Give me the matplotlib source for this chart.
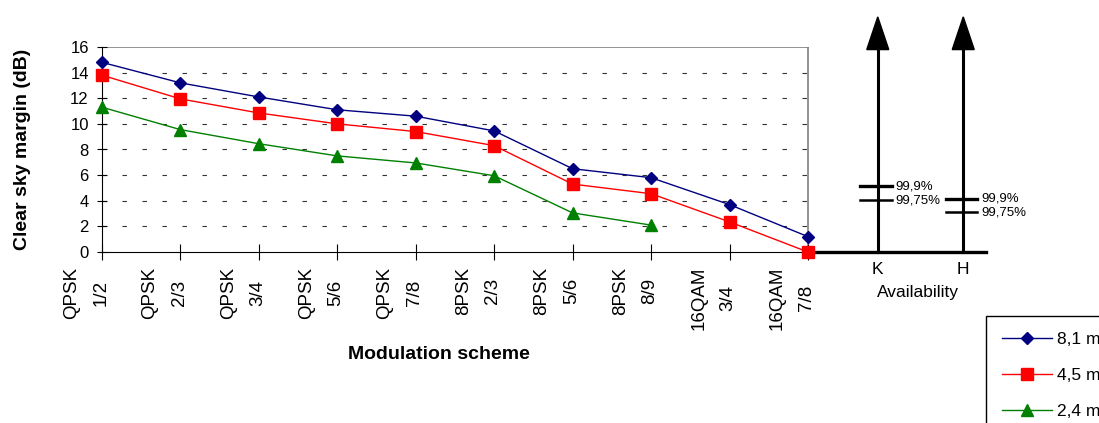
import matplotlib.pyplot as plt
from matplotlib.transforms import ScaledTranslation

plt.rcParams['font.family'] = ['Liberation Sans', 'DejaVu Sans']

# modulation schemes (x axis)
schemes = ['QPSK\n1/2', 'QPSK\n2/3', 'QPSK\n3/4', 'QPSK\n5/6', 'QPSK\n7/8',
           '8PSK\n2/3', '8PSK\n5/6', '8PSK\n8/9', '16QAM\n3/4', '16QAM\n7/8']

# clear sky margin (dB) for each antenna size
m81 = [14.8, 13.2, 12.1, 11.1, 10.6, 9.45, 6.5, 5.8, 3.7, 1.2]
m45 = [13.8, 11.95, 10.85, 10.0, 9.4, 8.3, 5.3, 4.55, 2.35, 0.0]
m24 = [11.3, 9.55, 8.45, 7.5, 6.95, 5.95, 3.05, 2.1]

# availability scales on the right
avail_names = ['K', 'H']
avail_pos = [9.89, 10.98]
k_levels = [5.15, 4.05]
h_levels = [4.15, 3.1]
level_labels = ['99,9%', '99,75%']

fig = plt.figure(figsize=(10.99, 4.23), dpi=100)
ax = fig.add_axes([102 / 1099, 1 - 252 / 423, 884 / 1099, 205 / 423])

n = len(schemes)
xmax = 11.27
ax.set_xlim(0, xmax)
ax.set_ylim(0, 16)

# grid and plot-area border (only over the category part)
ax.hlines(range(2, 16, 2), 0, n - 1, colors='#333333', lw=0.8,
          linestyles=(0, (4, 14)), zorder=1)
ax.plot([0, n - 1], [16, 16], color='#808080', lw=1.2, zorder=1)
ax.plot([n - 1, n - 1], [0, 16], color='#808080', lw=1.2, zorder=1)

for spine in ['top', 'right']:
    ax.spines[spine].set_visible(False)
ax.spines['left'].set_color('black')
ax.spines['bottom'].set_color('black')
ax.plot([n - 1, xmax], [0, 0], color='black', lw=2.4, clip_on=False, zorder=2)

x = list(range(n))
ax.plot(x, m81, color='#000080', lw=1, marker='D', ms=6.5, label='8,1 m',
        clip_on=False, zorder=5)
ax.plot(x, m45, color='#FF0000', lw=1, marker='s', ms=8.5, label='4,5 m',
        clip_on=False, zorder=4)
ax.plot(x[:len(m24)], m24, color='#008000', lw=1, marker='^', ms=9, label='2,4 m',
        clip_on=False, zorder=3)

ax.set_yticks(range(0, 17, 2))
ax.tick_params(axis='y', direction='inout', length=7, labelsize=12, pad=6)
ax.set_xticks(x)
ax.set_xticklabels(schemes, rotation=90, fontsize=13.5, va='top', ha='center',
                   multialignment='center', linespacing=1.95)
ax.tick_params(axis='x', direction='inout', length=11, pad=5)
offset = ScaledTranslation(-16 / 100, 0, fig.dpi_scale_trans)
for lab in ax.get_xticklabels():
    lab.set_transform(lab.get_transform() + offset)

ax.set_ylabel('Clear sky margin (dB)', fontsize=14, fontweight='bold', labelpad=28)
ax.text(4.3, -8.0, 'Modulation scheme', fontsize=14, fontweight='bold',
        ha='center', va='center')

# availability arrows
head_h = 2.55
head_w = 0.14
top = 18.35
for xp, name in zip(avail_pos, avail_names):
    ax.plot([xp, xp], [0, top - head_h], color='black', lw=2.2, clip_on=False)
    ax.fill([xp - head_w, xp + head_w, xp], [top - head_h, top - head_h, top],
            color='black', clip_on=False)
    ax.text(xp, -0.8, name, fontsize=12.5, ha='center', va='top')
ax.text(10.4, -2.6, 'Availability', fontsize=12.5, ha='center', va='top')

for xp, levels in zip(avail_pos, [k_levels, h_levels]):
    for i, (lv, lab) in enumerate(zip(levels, level_labels)):
        ax.plot([xp - 0.22, xp + 0.18], [lv, lv], color='black',
                lw=2.4 if i == 0 else 1.8, clip_on=False)
        ax.text(xp + 0.23, lv, lab, fontsize=9.5, ha='left', va='center')

# legend box runs off the right edge, as in the original
fig.legend(loc='upper left', bbox_to_anchor=(986 / 1099, 1 - 316 / 423),
           fontsize=12.5, frameon=True, fancybox=False, edgecolor='black',
           framealpha=1, handlelength=2.9, handletextpad=0.3, labelspacing=1.2,
           borderpad=0.9, borderaxespad=0)

fig.savefig('out.png', dpi=100)
